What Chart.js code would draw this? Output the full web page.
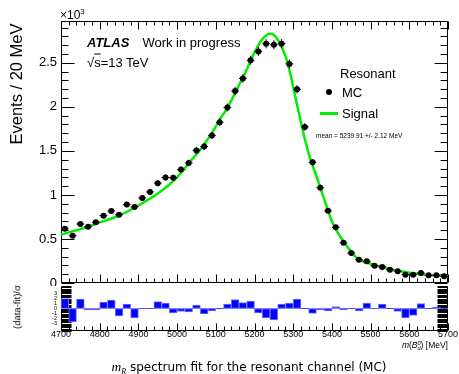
<!DOCTYPE html>
<html>
<head>
<meta charset="utf-8">
<script src="https://cdn.jsdelivr.net/npm/chart.js@4.4.1/dist/chart.umd.min.js"></script>
<style>
body { margin: 0; background: #fff; font-family: "Liberation Sans", Arial, sans-serif; }
#wrap { position: relative; width: 459px; height: 374px; overflow: hidden; background: #fff; }
canvas { position: absolute; left: 0; }
.t { position: absolute; white-space: nowrap; line-height: 1; color: #000; transform: translateY(-50%); }
.rot { position: absolute; white-space: nowrap; line-height: 1; color: #000; transform: translate(-50%, -50%) rotate(-90deg); }
</style>
</head>
<body>
<div id="wrap">
  <canvas id="main" width="459" height="287" style="top:0"></canvas>
  <canvas id="ratio" width="459" height="88" style="top:286px"></canvas>

  <div class="t" style="left:60px;top:14px;font-size:12px">&times;10<sup style="font-size:8px;vertical-align:5px">3</sup></div>
  <div class="rot" style="left:16px;top:84px;font-size:16.5px">Events / 20 MeV</div>
  <div class="rot" style="left:17px;top:307px;font-size:9.5px">(data-fit)/&sigma;</div>

  <div class="t" style="left:87px;top:42px;font-size:13px"><b><i>ATLAS</i></b><span style="margin-left:13px">Work in progress</span></div>
  <div class="t" style="left:87px;top:62px;font-size:13px">&radic;<span style="text-decoration:overline">s</span>=13 TeV</div>

  <div class="t" style="left:340px;top:73px;font-size:13px">Resonant</div>
  <div style="position:absolute;left:326px;top:89px;width:6px;height:6px;border-radius:3px;background:#000"></div>
  <div class="t" style="left:342px;top:92px;font-size:13px">MC</div>
  <div style="position:absolute;left:320px;top:112px;width:18px;height:2.5px;background:#00ee00"></div>
  <div class="t" style="left:342px;top:113px;font-size:13px">Signal</div>
  <div class="t" style="left:316px;top:136px;font-size:6.5px">mean = 5239.91 +/- 2.12 MeV</div>

  <div class="t" style="right:11px;top:346px;font-size:8.5px"><i>m</i>(<i>B</i><span style="display:inline-block;vertical-align:middle;font-size:5.5px;line-height:0.9;text-align:left"><i>0</i><br><i>d</i></span>) [MeV]</div>
  <div class="t" style="left:0;width:498px;text-align:center;top:368px;font-size:12px;font-family:'DejaVu Sans',sans-serif"><i style="font-family:'Liberation Serif',serif;font-size:13.5px">m<sub style="font-size:8px">R</sub></i> spectrum fit for the resonant channel (MC)</div>
</div>

<script>
// bin centres of the m(B) histogram [MeV]
var mass = [4710, 4730, 4750, 4770, 4790, 4810, 4830, 4850, 4870, 4890,
            4910, 4930, 4950, 4970, 4990, 5010, 5030, 5050, 5070, 5090,
            5110, 5130, 5150, 5170, 5190, 5210, 5230, 5250, 5270, 5290,
            5310, 5330, 5350, 5370, 5390, 5410, 5430, 5450, 5470, 5490,
            5510, 5530, 5550, 5570, 5590, 5610, 5630, 5650, 5670, 5690];

// MC events per bin
var mcCounts = [616, 537, 670, 640, 690, 765, 818, 776, 890, 864,
                966, 1034, 1134, 1198, 1195, 1288, 1363, 1505, 1550, 1674,
                1825, 1993, 2180, 2323, 2529, 2630, 2717, 2705, 2717, 2488,
                2199, 1772, 1370, 1082, 819, 632, 456, 341, 265, 246,
                197, 182, 151, 133, 94, 94, 114, 87, 87, 76];

// signal fit curve
var fitMass = [4700, 4750, 4800, 4850, 4900, 4950, 5000, 5034, 5060, 5077,
               5094, 5111, 5129, 5146, 5163, 5180, 5193, 5206, 5219, 5230,
               5240, 5250, 5262, 5279, 5292, 5305, 5318, 5331, 5344, 5353,
               5365, 5379, 5404, 5430, 5465, 5508, 5550, 5577, 5620, 5660, 5700];
var fitValues = [549, 612, 688, 765, 880, 1015, 1200, 1380, 1515, 1618,
                 1730, 1862, 1982, 2124, 2274, 2424, 2556, 2668, 2762, 2810,
                 2829, 2815, 2750, 2590, 2387, 2124, 1862, 1618, 1412, 1300,
                 1150, 966, 662, 474, 284, 208, 160, 133, 105, 88, 74];

// (data-fit)/sigma per bin
var pulls = [2.0, -2.7, 1.9, -0.3, -0.3, 1.3, 1.7, -1.5, 0.9, -1.9,
             -0.1, 0.1, 1.4, 1.1, -0.9, -0.6, -0.7, 0.7, -1.1, -0.5,
             0.05, 0.9, 1.8, 1.2, 1.5, -0.9, -1.9, -2.3, 0.9, 1.1,
             1.9, 0.05, -1.0, -0.3, -0.5, 0.4, -0.25, -0.1, -0.5, 1.1,
             -0.1, 0.9, -0.05, -0.6, -1.9, -1.4, 1.0, -0.05, 0.3, -0.1];

var yTicksMain = [0, 500, 1000, 1500, 2000, 2500];
var yTicksRatio = [-3, -2, -1, 0, 1, 2, 3];
var xTicks = [4700, 4800, 4900, 5000, 5100, 5200, 5300, 5400, 5500, 5600, 5700];

var FONT = '"Liberation Sans", Arial, sans-serif';

// ROOT style frame: box + inward major/minor ticks, drawn under the data
var frame = {
  id: 'frame',
  beforeDraw: function(chart, args, o) {
    if (o.white) {
      var c = chart.ctx;
      c.save(); c.fillStyle = '#fff'; c.fillRect(0, 0, chart.width, chart.height); c.restore();
    }
  },
  beforeDatasetsDraw: function(chart, args, o) {
    var c = chart.ctx, a = chart.chartArea, x = chart.scales.x, y = chart.scales.y;
    var L = Math.round(a.left) + 0.5, R = Math.round(a.right) - 0.5;
    var T = Math.round(a.top) + 0.5, B = Math.round(a.bottom) - 0.5;
    c.save();
    c.strokeStyle = '#000';
    c.lineWidth = 1;
    c.beginPath();
    c.moveTo(L, B); c.lineTo(R, B); c.lineTo(R, T);
    if (o.top) c.lineTo(L, T); else c.moveTo(L, T);
    c.lineTo(L, B);
    var v, p, big, len;
    for (v = x.min; v <= x.max + 1e-6; v += o.xMinor) {
      p = Math.round(x.getPixelForValue(v)) + 0.5;
      big = Math.abs(v / o.xMajor - Math.round(v / o.xMajor)) < 1e-6;
      len = big ? o.xMajLen : o.xMinLen;
      c.moveTo(p, B); c.lineTo(p, B - len);
      if (o.top) { c.moveTo(p, T); c.lineTo(p, T + len); }
    }
    for (v = y.min; v <= y.max + 1e-6; v += o.yMinor) {
      p = Math.round(y.getPixelForValue(v)) + 0.5;
      big = Math.abs(v / o.yMajor - Math.round(v / o.yMajor)) < 1e-6;
      len = big ? o.yMajLen : o.yMinLen;
      c.moveTo(L, p); c.lineTo(L + len, p);
      c.moveTo(R, p); c.lineTo(R - len, p);
    }
    c.stroke();
    c.restore();
  }
};

// error bars for the MC points: bin width and sqrt(N)
var errorBars = {
  id: 'errorBars',
  afterDatasetsDraw: function(chart) {
    var c = chart.ctx, x = chart.scales.x, y = chart.scales.y;
    c.save();
    c.strokeStyle = '#000';
    c.lineWidth = 1;
    c.beginPath();
    mass.forEach(function(m, i) {
      var n = mcCounts[i], e = Math.sqrt(n);
      var px = x.getPixelForValue(m), py = y.getPixelForValue(n);
      c.moveTo(x.getPixelForValue(m - 10), py); c.lineTo(x.getPixelForValue(m + 10), py);
      c.moveTo(px, y.getPixelForValue(n - e)); c.lineTo(px, y.getPixelForValue(n + e));
    });
    c.stroke();
    c.restore();
  }
};

function fixY(w) {
  return function(s) { s.width = w; s.paddingTop = 0; s.paddingBottom = 0; };
}
function fixX(h) {
  return function(s) { s.height = h; s.paddingLeft = 0; s.paddingRight = 0; };
}
function setTicks(list) {
  return function(s) { s.ticks = list.map(function(v) { return { value: v }; }); };
}

new Chart(document.getElementById('main'), {
  data: {
    datasets: [{
      type: 'scatter',
      label: 'MC',
      data: mass.map(function(m, i) { return { x: m, y: mcCounts[i] }; }),
      pointRadius: 3,
      pointBackgroundColor: '#000',
      pointBorderWidth: 0,
      order: 0
    }, {
      type: 'line',
      label: 'Signal',
      data: fitMass.map(function(m, i) { return { x: m, y: fitValues[i] }; }),
      borderColor: '#00ee00',
      borderWidth: 2.5,
      pointRadius: 0,
      fill: false,
      cubicInterpolationMode: 'monotone',
      order: 1
    }]
  },
  options: {
    responsive: false,
    animation: false,
    layout: { padding: { top: 21, right: 11, left: 0, bottom: 0 } },
    plugins: {
      legend: { display: false },
      tooltip: { enabled: false },
      frame: { top: true, xMajor: 100, xMinor: 20, xMajLen: 8, xMinLen: 4,
               yMajor: 500, yMinor: 100, yMajLen: 13, yMinLen: 7 }
    },
    scales: {
      x: {
        type: 'linear', min: 4700, max: 5700,
        ticks: { display: false },
        grid: { display: false, drawTicks: false },
        border: { display: false },
        afterFit: fixX(1.5)
      },
      y: {
        type: 'linear', min: 0, max: 2975,
        afterBuildTicks: setTicks(yTicksMain),
        ticks: {
          color: '#000', padding: 4,
          font: { family: FONT, size: 13, lineHeight: 1 },
          callback: function(v) { return String(v / 1000); }
        },
        grid: { display: false, drawTicks: false },
        border: { display: false },
        afterFit: fixY(61)
      }
    }
  },
  plugins: [frame, errorBars]
});

new Chart(document.getElementById('ratio'), {
  data: {
    datasets: [{
      type: 'bar',
      label: 'pull',
      data: mass.map(function(m, i) { return { x: m, y: pulls[i] }; }),
      backgroundColor: '#0000ff',
      borderColor: '#7373ff',
      borderWidth: 1,
      borderSkipped: false,
      barPercentage: 1,
      categoryPercentage: 1,
      order: 0
    }, {
      type: 'line',
      label: 'zero',
      data: [{ x: 4700, y: 0 }, { x: 5700, y: 0 }],
      borderColor: '#8c8cff',
      borderWidth: 1,
      pointRadius: 0,
      order: 1
    }]
  },
  options: {
    responsive: false,
    animation: false,
    layout: { padding: { top: 0, right: 11, left: 0, bottom: 0 } },
    plugins: {
      legend: { display: false },
      tooltip: { enabled: false },
      frame: { white: true, top: false, xMajor: 100, xMinor: 20, xMajLen: 7, xMinLen: 4,
               yMajor: 1, yMinor: 0.25, yMajLen: 10, yMinLen: 10 }
    },
    scales: {
      x: {
        type: 'linear', min: 4700, max: 5700, offset: false,
        afterBuildTicks: setTicks(xTicks),
        ticks: { color: '#000', padding: -1, maxRotation: 0, autoSkip: false,
                 font: { family: FONT, size: 9, lineHeight: 1 },
                 callback: function(v) { return String(v); } },
        grid: { display: false, drawTicks: false },
        border: { display: false },
        afterFit: fixX(43)
      },
      y: {
        type: 'linear', min: -4.5, max: 4.5,
        afterBuildTicks: setTicks(yTicksRatio),
        ticks: { color: '#000', padding: 4, autoSkip: false,
                 font: { family: FONT, size: 5.5, lineHeight: 1 },
                 callback: function(v) { return String(v); } },
        grid: { display: false, drawTicks: false },
        border: { display: false },
        afterFit: fixY(61)
      }
    }
  },
  plugins: [frame]
});
</script>
</body>
</html>
